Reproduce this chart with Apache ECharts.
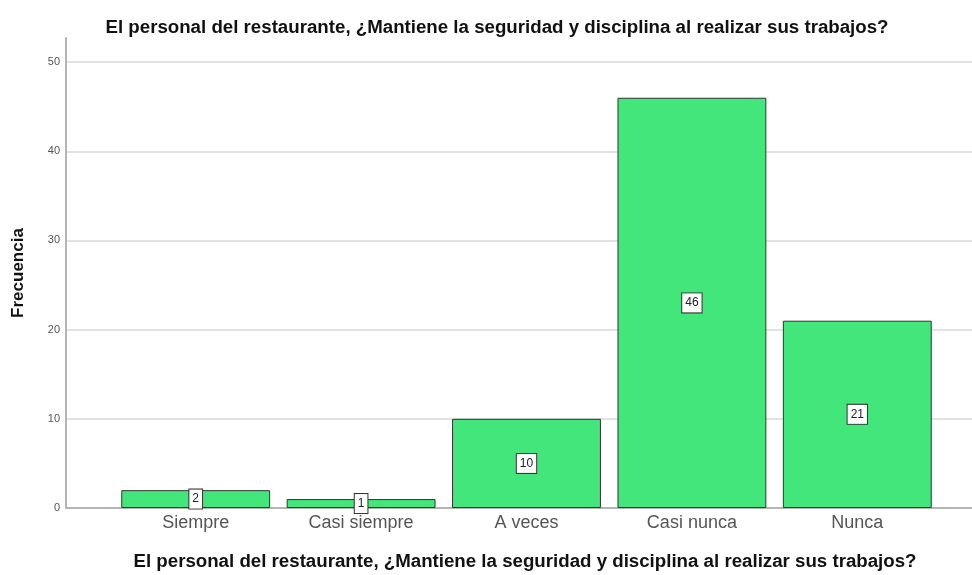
<!DOCTYPE html>
<html>
<head>
<meta charset="utf-8">
<script src="https://cdn.jsdelivr.net/npm/echarts@6/dist/echarts.min.js"></script>
<style>
  html, body { margin: 0; padding: 0; background: #fff; }
  #chart { width: 972px; height: 575px; }
</style>
</head>
<body>
<div id="chart"></div>
<script>
const chartTitle = 'El personal del restaurante, ¿Mantiene la seguridad y disciplina al realizar sus trabajos?'
const categories = ['Siempre', 'Casi siempre', 'A veces', 'Casi nunca', 'Nunca']
const frecuencia = [2, 1, 10, 46, 21]
const yTicks = [0, 10, 20, 30, 40, 50]

const yMax = 52.7
const font = 'Liberation Sans, Arial, sans-serif'

const chart = echarts.init(document.getElementById('chart'))

chart.setOption({
  animation: false,
  title: {
    text: chartTitle,
    left: 492,
    top: 13,
    textAlign: 'center',
    textStyle: { fontFamily: font, fontSize: 18.7, fontWeight: 'bold', color: '#111' }
  },
  graphic: [{
    type: 'text',
    x: 525,
    y: 562,
    style: {
      text: chartTitle,
      fontFamily: font, fontSize: 18.7, fontWeight: 'bold', fill: '#111',
      align: 'center',
      verticalAlign: 'middle'
    }
  }],
  grid: [
    // frame: axis lines and split lines
    { left: 66, right: 0, top: 38, bottom: 67 },
    // bars
    { left: 113, right: 32, top: 38, bottom: 67 }
  ],
  xAxis: [{
    gridIndex: 0,
    type: 'value',
    min: 0,
    max: 1,
    axisLine: { show: true, lineStyle: { color: '#b4b4b4', width: 2 } },
    axisTick: { show: false },
    axisLabel: { show: false },
    splitLine: { show: false }
  }, {
    gridIndex: 1,
    type: 'category',
    data: categories,
    axisLine: { show: false },
    axisTick: { show: false },
    axisLabel: { margin: 6, fontFamily: font, fontSize: 18, color: '#555' }
  }],
  yAxis: [{
    gridIndex: 0,
    type: 'value',
    min: 0,
    max: yMax,
    interval: 10,
    name: 'Frecuencia',
    nameLocation: 'middle',
    nameGap: 39,
    nameTextStyle: { fontFamily: font, fontSize: 17, fontWeight: 'bold', color: '#111' },
    axisLine: { show: true, lineStyle: { color: '#b4b4b4', width: 2 } },
    axisTick: { show: false },
    axisLabel: {
      margin: 6,
      fontFamily: font,
      fontSize: 11,
      color: '#555',
      formatter: v => (yTicks.indexOf(v) >= 0 ? String(v) : '')
    },
    splitLine: {
      show: true,
      lineStyle: {
        width: 2,
        color: ['transparent', '#e2e2e2', '#e2e2e2', '#e2e2e2', '#e2e2e2', '#e2e2e2', 'transparent']
      }
    }
  }, {
    gridIndex: 1,
    type: 'value',
    min: 0,
    max: yMax,
    show: false,
    splitLine: { show: false }
  }],
  series: [{
    type: 'bar',
    xAxisIndex: 1,
    yAxisIndex: 1,
    data: frecuencia,
    barCategoryGap: '10%',
    itemStyle: { color: '#43e67b', borderColor: '#333', borderWidth: 1 },
    label: {
      show: true,
      position: 'inside',
      fontFamily: font,
      fontSize: 12,
      color: '#222',
      backgroundColor: '#fff',
      borderColor: '#333',
      borderWidth: 1,
      padding: [4, 3, 3, 3]
    }
  }]
})
</script>
</body>
</html>
